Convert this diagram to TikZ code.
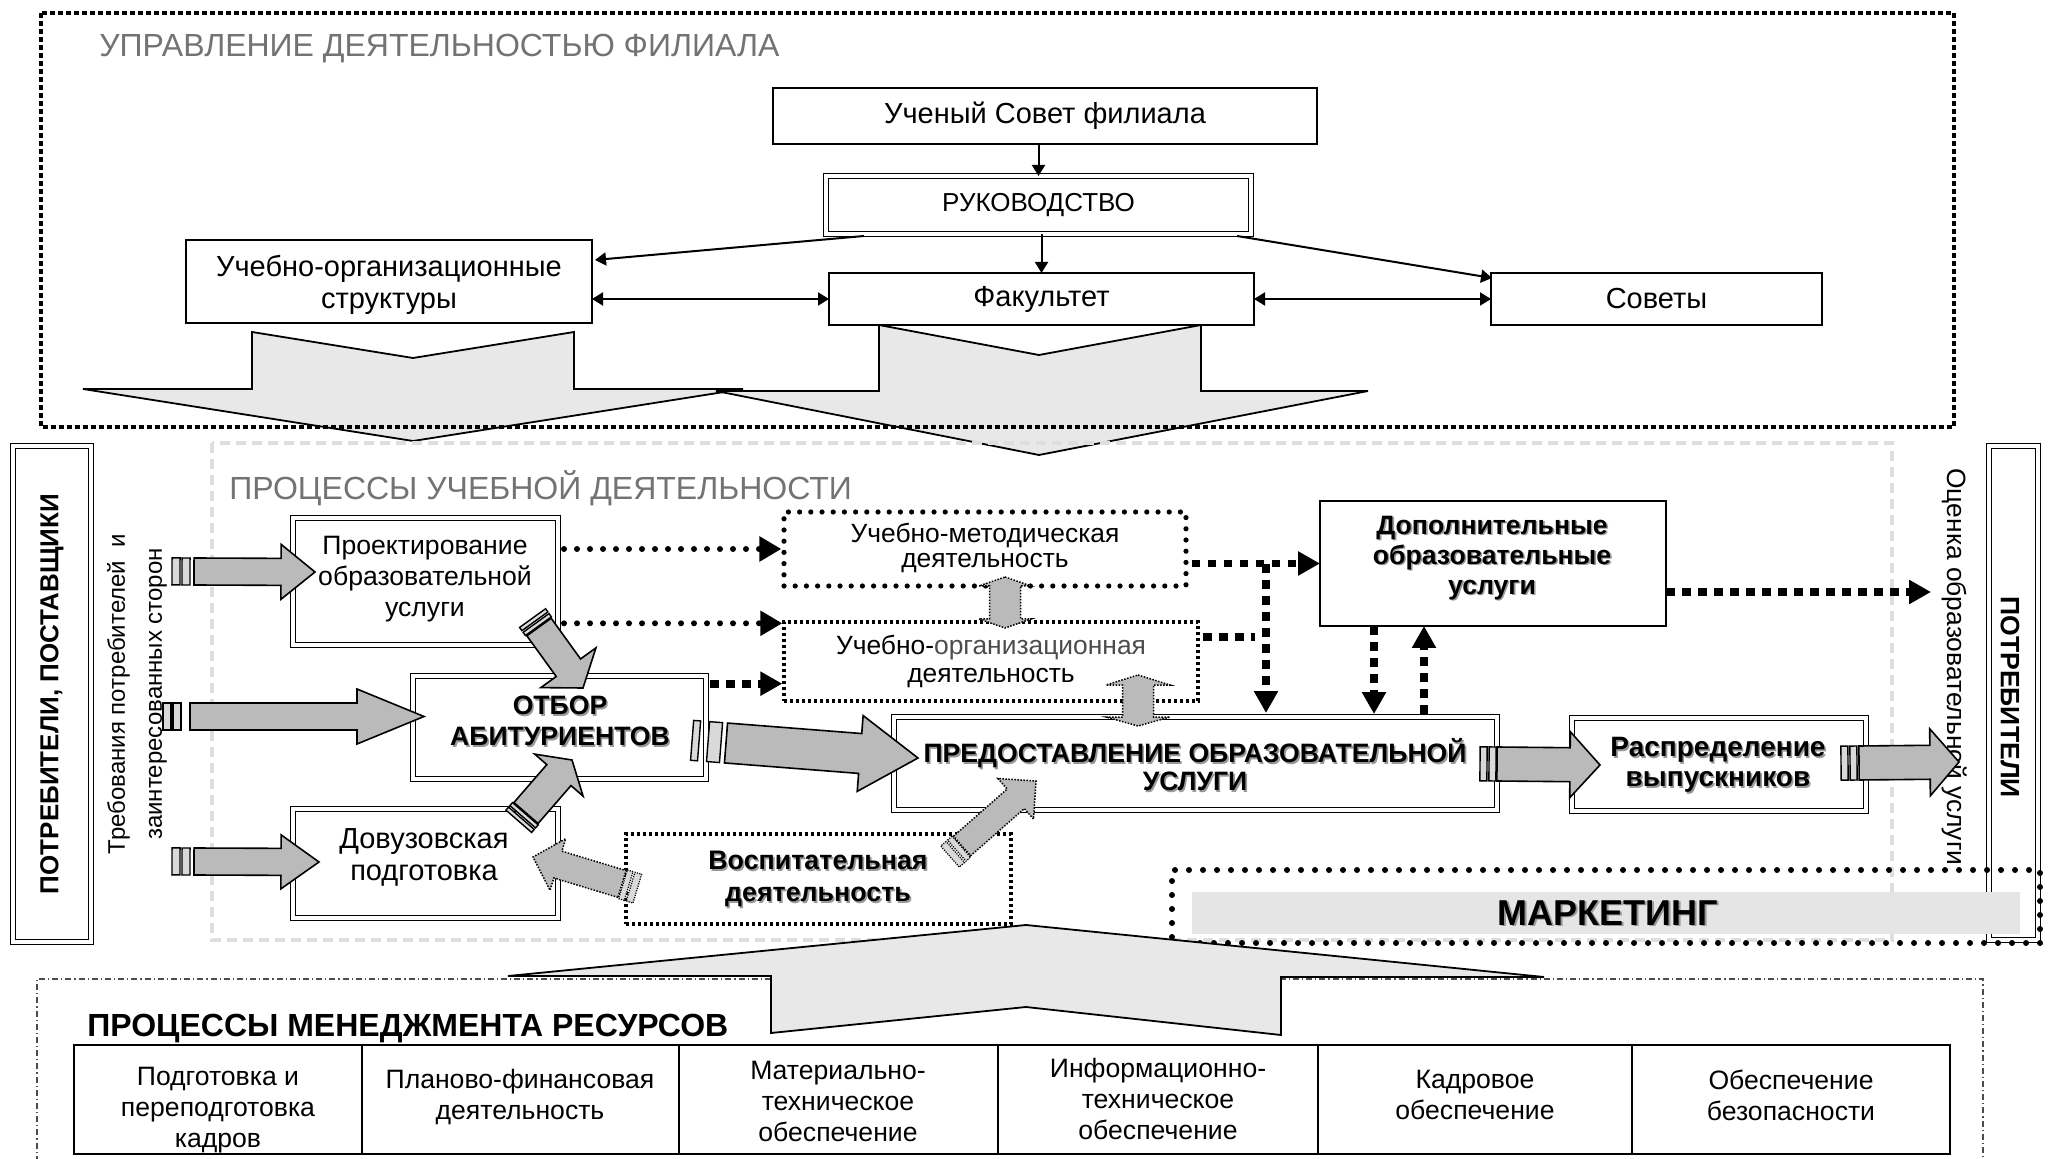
\documentclass[tikz,border=0pt]{standalone}
\usepackage{fontspec}
\setmainfont{Liberation Sans}
\usetikzlibrary{arrows.meta,calc,fit}

% block arrow: style, start, tip, shaft half width, head half width, head length
\newcommand{\barrow}[6]{%
  \coordinate (bc) at ($(#3)!#6!(#2)$);
  \path[#1] ($(#2)!#4!90:(#3)$) -- ($(bc)!#4!90:(#3)$) -- ($(bc)!#5!90:(#3)$) -- (#3)
    -- ($(bc)!#5!-90:(#3)$) -- ($(bc)!#4!-90:(#3)$) -- ($(#2)!#4!-90:(#3)$) -- cycle;}
% tail bar: style, start, tip, from distance, to distance (behind start), half width
\newcommand{\tbar}[6]{%
  \coordinate (tb1) at ($(#2)!-#4!(#3)$);
  \coordinate (tb2) at ($(#2)!-#5!(#3)$);
  \path[#1] ($(tb1)!#6!90:(#3)$) -- ($(tb2)!#6!90:(#3)$) -- ($(tb2)!#6!-90:(#3)$) -- ($(tb1)!#6!-90:(#3)$) -- cycle;}
% text with gray shadow: name, style, position, text
\newcommand{\shtxt}[4]{%
  \node[#2, text=black!40] (#1-s) at ($(#3)+(1.6,1.6)$) {#4};
  \node[#2] (#1) at (#3) {#4};}

\begin{document}
\begin{tikzpicture}[x=0.5pt,y=-0.5pt,
 sbox/.style={draw=black, line width=1pt, inner sep=0pt, outer sep=0pt},
 dbox/.style={draw=black, line width=0.85pt, double=white, double distance=1.6pt, inner sep=0pt, outer sep=0pt},
 conn/.style={line width=1pt, -{Triangle[length=5.5pt,width=6.5pt]}},
 conn2/.style={line width=1pt, {Triangle[length=5.5pt,width=6.5pt]}-{Triangle[length=5.5pt,width=6.5pt]}},
 chev/.style={draw=black, line width=0.9pt, fill=black!9, line join=miter},
 blk/.style={draw=black, line width=0.8pt, fill=black!27, line join=miter},
 blkd/.style={draw=black, line width=0.75pt, dash pattern=on 0.75pt off 0.75pt, fill=black!27},
 barfill/.style={draw=black, line width=0.7pt, fill=black!15},
 barfilld/.style={draw=black, line width=0.6pt, dash pattern=on 0.6pt off 0.6pt, fill=black!15},
 rdots/.style={line width=3pt, line cap=round, dash pattern=on 0pt off 6.5pt},
 rdarrow/.style={rdots, -{Triangle[length=11pt,width=12pt]}},
 sqd/.style={line width=3.8pt, dash pattern=on 4.4pt off 3.6pt},
 sqdarrow/.style={sqd, -{Triangle[length=11pt,width=11.5pt]}},
 umdbox/.style={draw=black, line width=2.6pt, line cap=round, dash pattern=on 0pt off 5.6pt, inner sep=0pt},
 uodbox/.style={draw=black, line width=1.7pt, dash pattern=on 1.7pt off 1.3pt, inner sep=0pt},
 topframe/.style={draw=black, line width=2.4pt, dash pattern=on 2.4pt off 1.6pt},
 procframe/.style={draw=black!13, line width=1.6pt, dash pattern=on 5pt off 3pt},
 botframe/.style={draw=black!70, line width=0.6pt, dash pattern=on 3pt off 1.5pt on 0.6pt off 1.5pt},
 mkframe/.style={draw=black, line width=3pt, line cap=round, dash pattern=on 0pt off 7pt, inner sep=0pt},
 ttl/.style={font=\fontsize{16pt}{18pt}\selectfont, text=black!55, inner sep=0pt, anchor=base west},
 tA/.style={font=\fontsize{14.5pt}{16pt}\selectfont, align=center, inner sep=0pt},
 tB/.style={font=\fontsize{13.3pt}{15.5pt}\selectfont, align=center, inner sep=0pt},
 bB/.style={font=\bfseries\fontsize{13.3pt}{15pt}\selectfont, align=center, inner sep=0pt},
]
\useasboundingbox (0,0) rectangle (2049,1159);
\fill[white] (0,0) rectangle (2049,1159);

% ---------------- top section ----------------
\filldraw[chev] (252,332) -- (413,358) -- (574,332) -- (574,389) -- (743,389) -- (413,441) -- (83,389) -- (252,389) -- cycle;
\filldraw[chev] (879,325) -- (1039,355) -- (1201,325) -- (1201,391) -- (1368,391) -- (1039,455) -- (716,391) -- (879,391) -- cycle;
\draw[topframe] (41,13) rectangle (1954,427);
\node[ttl] (t1) at (99,57) {УПРАВЛЕНИЕ ДЕЯТЕЛЬНОСТЬЮ ФИЛИАЛА};

\node[sbox, fill=white, fit={(773,88)(1317,144)}] (uc) {};
\node[tA] (uc-t) at (uc.center) {Ученый Совет филиала};
\node[dbox, fill=white, fit={(826,176)(1251,234)}] (ruk) {};
\node[tA, font=\fontsize{13pt}{15pt}\selectfont] (ruk-t) at (ruk.center) {РУКОВОДСТВО};
\node[sbox, fill=white, fit={(829,273)(1254,325)}] (fak) {};
\node[tA] (fak-t) at (fak.center) {Факультет};
\node[sbox, fill=white, fit={(186,240)(592,323)}] (uos) {};
\node[tA] (uos-t) at ($(uos.center)+(0,3)$) {Учебно-организационные\\структуры};
\node[sbox, fill=white, fit={(1491,273)(1822,325)}] (sov) {};
\node[tA] (sov-t) at (sov.center) {Советы};

\draw[conn] (ruk.north |- uc.south) -- (ruk.north);
\draw[conn] (ruk.south -| fak.north) -- (fak.north);
\draw[conn] ($(ruk.south west)+(38,2)$) -- ($(uos.north east)+(3,20)$);
\draw[conn] ($(ruk.south east)+(-14,2)$) -- ($(sov.north west)+(1,5)$);
\draw[conn2] (uos.east |- fak.west) -- (fak.west);
\draw[conn2] (fak.east) -- (sov.west);

% ---------------- middle section ----------------
\draw[procframe] (212,443) rectangle (1892,940);
\node[ttl] (t2) at (229,500) {ПРОЦЕССЫ УЧЕБНОЙ ДЕЯТЕЛЬНОСТИ};

\node[dbox, fit={(13,446)(91,942)}] (pp) {};
\node[font=\bfseries\fontsize{13pt}{15pt}\selectfont, rotate=90, inner sep=0pt] (pp-t) at (pp.center) {ПОТРЕБИТЕЛИ, ПОСТАВЩИКИ};
\node[font=\fontsize{12pt}{18.5pt}\selectfont, rotate=90, align=center, inner sep=0pt] (treb) at (137,694) {Требования потребителей~ и\\заинтересованных сторон};

\node[dbox, fit={(1989,446)(2038,940)}] (potr) {};
\node[bB, rotate=-90] (potr-t) at (2010,697) {ПОТРЕБИТЕЛИ};
\node[font=\fontsize{13.2pt}{15pt}\selectfont, rotate=-90, inner sep=0pt] (ocenka) at (1955,667) {Оценка образовательной услуги};

\node[dbox, fit={(293,518)(558,645)}] (proekt) {};
\node[tB] (proekt-t) at (425,579) {Проектирование\\образовательной\\услуги};
\node[dbox, fit={(413,676)(706,779)}] (otbor) {};
\shtxt{otbor-t}{bB, font=\bfseries\fontsize{13.3pt}{15.5pt}\selectfont}{560,721}{ОТБОР\\АБИТУРИЕНТОВ}
\node[dbox, fit={(293,809)(558,918)}] (dov) {};
\node[tA] (dov-t) at (424,857) {Довузовская\\подготовка};

\node[umdbox, fit={(784,512)(1186,586)}] (umd) {};
\node[font=\fontsize{13.2pt}{12.5pt}\selectfont, align=center, inner sep=0pt] (umd-t) at (985,548) {Учебно-методическая\\деятельность};
\node[uodbox, fit={(784,622)(1198,701)}] (uod) {};
\node[font=\fontsize{13.2pt}{14pt}\selectfont, align=center, inner sep=0pt] (uod-t) at (991,661) {Учебно-{\color{black!70}организационная}\\деятельность};

\node[sbox, fit={(1320,501)(1666,626)}] (dop) {};
\shtxt{dop-t}{bB}{1492,558}{Дополнительные\\образовательные\\услуги}
\node[dbox, fit={(894,717)(1497,810)}] (pred) {};
\shtxt{pred-t}{bB, font=\bfseries\fontsize{13.3pt}{14pt}\selectfont}{1195,765}{ПРЕДОСТАВЛЕНИЕ ОБРАЗОВАТЕЛЬНОЙ\\УСЛУГИ}
\node[dbox, fit={(1572,718)(1866,811)}] (rasp) {};
\shtxt{rasp-t}{bB, font=\bfseries\fontsize{14pt}{15pt}\selectfont}{1718,765}{Распределение\\выпускников}
\node[uodbox, fit={(626,834)(1011,924)}] (vosp) {};
\shtxt{vosp-t}{bB, font=\bfseries\fontsize{13.4pt}{16pt}\selectfont}{818,879}{Воспитательная\\деятельность}

% dotted / dashed connectors
\draw[rdarrow] ($(proekt.east |- umd.west)+(6,0)$) -- (umd.west);
\coordinate (p2) at ($(uod.north west)+(0,3)$);
\draw[rdarrow] ($(proekt.east |- p2)+(6,0)$) -- (p2);
\coordinate (p3) at ($(uod.south west)+(0,-19)$);
\draw[sqdarrow] ($(otbor.east |- p3)+(4,0)$) -- (p3);
\draw[sqdarrow] ($(umd.east |- dop.west)+(3,0)$) -- (dop.west);
\coordinate (j1) at (1266,564);
\draw[sqdarrow] (j1) -- ($(j1 |- pred.north)+(0,-4)$);
\draw[sqd] ($(uod.north east)+(3,17)$) -- ++(52,0);
\coordinate (xo) at (1931,592);
\draw[sqdarrow] (dop.east |- xo) -- (xo);
\coordinate (xa) at (1374,0);
\coordinate (xb) at (1424,0);
\draw[sqdarrow] (dop.south -| xa) -- ($(pred.north -| xa)+(0,-3)$);
\draw[sqdarrow] ($(pred.north -| xb)+(0,-3)$) -- (dop.south -| xb);

% block arrows
\coordinate (l1a) at (194,571.5); \coordinate (l1b) at (315,572);
\barrow{blk}{l1a}{l1b}{6.75pt}{13.75pt}{17pt}
\tbar{barfill}{l1a}{l1b}{2pt}{6pt}{6.75pt}
\tbar{barfill}{l1a}{l1b}{7pt}{11pt}{6.75pt}

\coordinate (l2a) at (190,716.5); \coordinate (l2b) at (424,716.5);
\barrow{blk}{l2a}{l2b}{6.75pt}{13.75pt}{33.5pt}
\tbar{barfill}{l2a}{l2b}{4.5pt}{8.5pt}{6.75pt}
\tbar{barfill}{l2a}{l2b}{9.5pt}{13.5pt}{6.75pt}

\coordinate (l3a) at (194,861.5); \coordinate (l3b) at (319,862);
\barrow{blk}{l3a}{l3b}{6.75pt}{13.5pt}{19pt}
\tbar{barfill}{l3a}{l3b}{2pt}{6pt}{6.75pt}
\tbar{barfill}{l3a}{l3b}{7pt}{11pt}{6.75pt}

\coordinate (ha) at (726,743); \coordinate (hb) at (918,758);
\barrow{blk}{ha}{hb}{10pt}{19pt}{29pt}
\tbar{barfill}{ha}{hb}{2.5pt}{9pt}{10pt}
\tbar{barfill}{ha}{hb}{13.5pt}{17pt}{10pt}

\coordinate (r1a) at (1497,764); \coordinate (r1b) at (1600,765);
\barrow{blk}{r1a}{r1b}{8.5pt}{16.5pt}{15pt}
\tbar{barfill}{r1a}{r1b}{0.5pt}{4pt}{8.5pt}
\tbar{barfill}{r1a}{r1b}{5pt}{8.5pt}{8.5pt}

\coordinate (r2a) at (1859,763); \coordinate (r2b) at (1959,762);
\barrow{blk}{r2a}{r2b}{8.5pt}{16.75pt}{14.5pt}
\tbar{barfill}{r2a}{r2b}{1pt}{4.5pt}{8.5pt}
\tbar{barfill}{r2a}{r2b}{5.5pt}{9pt}{8.5pt}

\coordinate (d1a) at (539,627); \coordinate (d1b) at (583,688);
\barrow{blk}{d1a}{d1b}{7.5pt}{17pt}{12.5pt}
\tbar{barfill}{d1a}{d1b}{0.5pt}{2.5pt}{8pt}
\tbar{barfill}{d1a}{d1b}{3.5pt}{5.5pt}{8pt}

\coordinate (d2a) at (526,813); \coordinate (d2b) at (572,760);
\barrow{blk}{d2a}{d2b}{8pt}{16pt}{10pt}
\tbar{barfill}{d2a}{d2b}{0.5pt}{2.5pt}{8.5pt}
\tbar{barfill}{d2a}{d2b}{3.5pt}{5.5pt}{8.5pt}

\coordinate (d3a) at (622,884); \coordinate (d3b) at (533,857);
\barrow{blkd}{d3a}{d3b}{7pt}{13.5pt}{13pt}
\tbar{barfilld}{d3a}{d3b}{0.5pt}{3.5pt}{7.5pt}
\tbar{barfilld}{d3a}{d3b}{4.5pt}{8pt}{7.5pt}

\coordinate (d4a) at (962,846); \coordinate (d4b) at (1036,781);
\barrow{blkd}{d4a}{d4b}{6.5pt}{13.5pt}{13.5pt}
\tbar{barfilld}{d4a}{d4b}{0.5pt}{3.5pt}{7pt}
\tbar{barfilld}{d4a}{d4b}{4.5pt}{8pt}{7pt}

\path[blkd] (1005,577) -- (1031,586) -- (1020.5,586) -- (1020.5,619) -- (1031,619) -- (1005,628) -- (979,619) -- (989.5,619) -- (989.5,586) -- (979,586) -- cycle;
\path[blkd] (1138,675) -- (1170,685) -- (1153.5,685) -- (1153.5,717) -- (1170,717) -- (1138,726) -- (1106,717) -- (1122.5,717) -- (1122.5,685) -- (1106,685) -- cycle;

% marketing
\node[mkframe, fit={(1172,870)(2040,943)}] (mk) {};
\fill[black!10] (1192,892) rectangle (2020,934);
\shtxt{mk-t}{font=\bfseries\fontsize{18pt}{20pt}\selectfont, inner sep=0pt}{1608,913}{МАРКЕТИНГ}

% ---------------- bottom section ----------------
\draw[botframe] (37,1175) -- (37,979) -- (1983,979) -- (1983,1175);
\filldraw[chev] (1026,925) -- (1544,977) -- (1281,977) -- (1281,1035) -- (1026,1007) -- (771,1033) -- (771,976) -- (508,976) -- cycle;
\node[font=\bfseries\fontsize{16pt}{18pt}\selectfont, anchor=base west, inner sep=0pt] (t3) at (87,1036) {ПРОЦЕССЫ МЕНЕДЖМЕНТА РЕСУРСОВ};

\node[sbox, fit={(74,1045)(362,1154)}] (c1) {};
\node[tB] (c1-t) at (218,1110) {Подготовка и\\переподготовка\\кадров};
\node[sbox, fit={(362,1045)(679,1154)}] (c2) {};
\node[tB] (c2-t) at (520,1097) {Планово-финансовая\\деятельность};
\node[sbox, fit={(679,1045)(998,1154)}] (c3) {};
\node[tB] (c3-t) at (838,1101) {Материально-\\техническое\\обеспечение};
\node[sbox, fit={(998,1045)(1318,1154)}] (c4) {};
\node[tB] (c4-t) at (1158,1099) {Информационно-\\техническое\\обеспечение};
\node[sbox, fit={(1318,1045)(1632,1154)}] (c5) {};
\node[tB] (c5-t) at (1475,1095) {Кадровое\\обеспечение};
\node[sbox, fit={(1632,1045)(1950,1154)}] (c6) {};
\node[tB] (c6-t) at (1791,1095) {Обеспечение\\безопасности};
\end{tikzpicture}
\end{document}
